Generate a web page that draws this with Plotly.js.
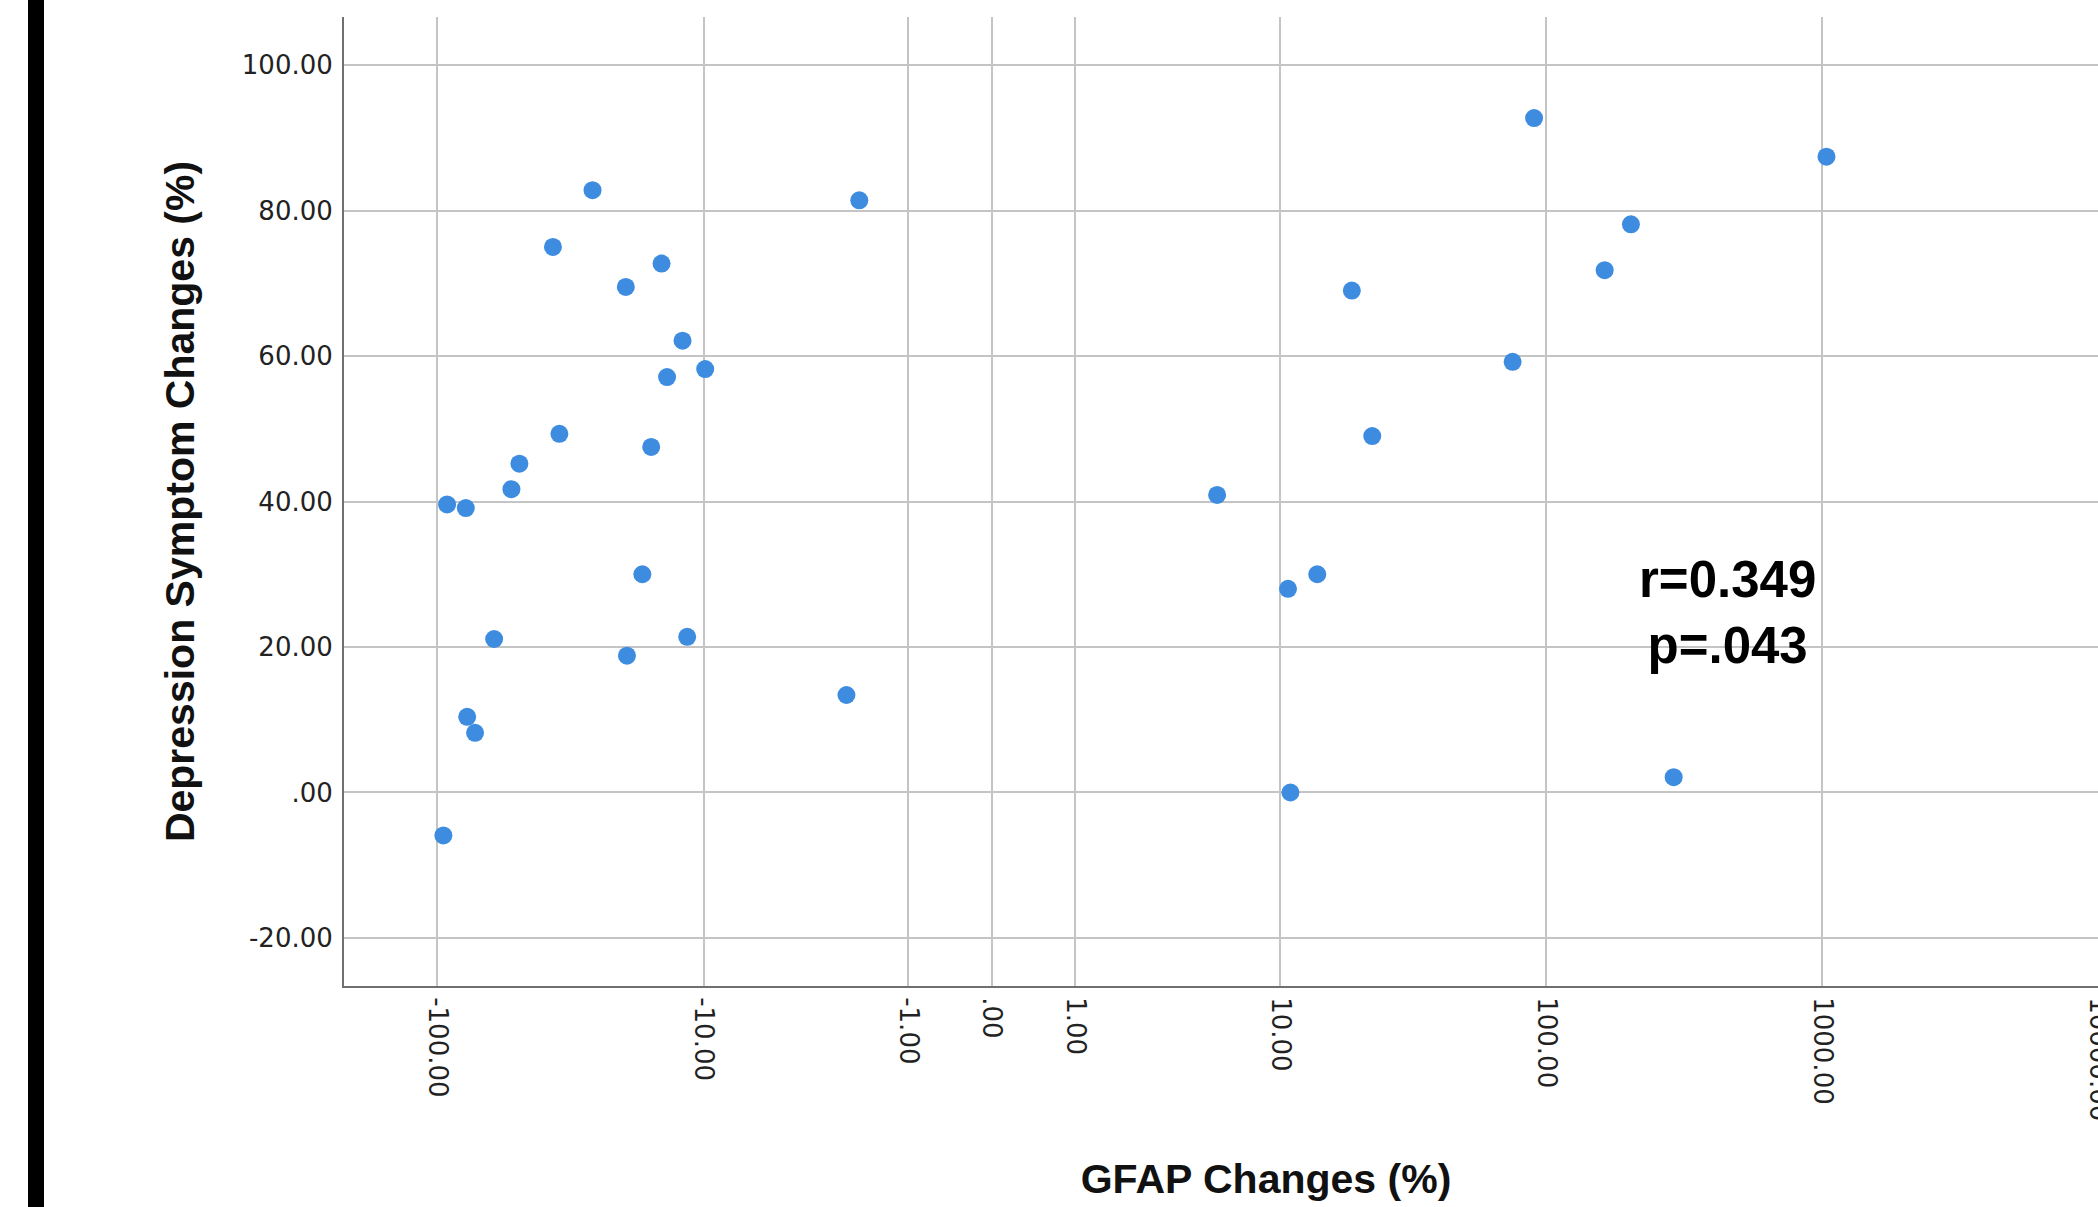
<!DOCTYPE html>
<html>
<head>
<meta charset="utf-8">
<script src="https://cdn.plot.ly/plotly-3.0.1.min.js"></script>
<style>
html, body { margin:0; padding:0; overflow:hidden; background:#fff; width:2098px; height:1207px; }
#chart { position:absolute; left:0; top:0; width:2200px; height:1207px; }
#edge { position:absolute; left:28px; top:0; width:16px; height:1207px; background:#000; z-index:5; }
</style>
</head>
<body>
<div id="chart"></div>
<div id="edge"></div>
<script>
// GFAP changes (%) — x values
const gfapChange = [
  -26.7, -2.01, -37.5, -14.6, -20.0, -12.1, -9.85, -13.9, -35.5, -16.0, -49.9,
  -53.4, -91.9, -78.5, -17.3, -61.8, -11.6, -19.8, -2.35, -77.6, -72.6, -94.8,
  90.1, 1036.5, 202.9, 162.9, 19.0, 75.2, 22.7, 5.52, 14.0, 10.76, 11.0, 290
];
// Depression symptom changes (%) — y values
const depressionChange = [
  82.8, 81.4, 75.0, 72.7, 69.5, 62.1, 58.2, 57.1, 49.3, 47.5, 45.2,
  41.7, 39.6, 39.1, 30.0, 21.1, 21.4, 18.8, 13.4, 10.4, 8.2, -5.9,
  92.7, 87.4, 78.1, 71.8, 69.0, 59.2, 49.0, 40.9, 30.0, 28.0, 0.0, 2.1
];
const xTickValues = [-100, -10, -1, 0, 1, 10, 100, 1000, 10000];
const xTickLabels = ["-100.00", "-10.00", "-1.00", ".00", "1.00", "10.00", "100.00", "1000.00", "10000.00"];
const yTickValues = [-20, 0, 20, 40, 60, 80, 100];
const yTickLabels = ["-20.00", ".00", "20.00", "40.00", "60.00", "80.00", "100.00"];
const xRangeRaw = [-218, 21000];
const yRange = [-26.6, 106.6];
const statsLines = ["r=0.349", "p=.043"];
const xTitle = "GFAP Changes (%)";
const yTitle = "Depression Symptom Changes (%)";

// SPSS-style "safe log" scale: sign(v) * log10(1 + |v|)
function safeLog(v) { return Math.sign(v) * Math.log10(1 + Math.abs(v)); }

const trace = {
  type: 'scatter',
  mode: 'markers',
  x: gfapChange.map(safeLog),
  y: depressionChange,
  customdata: gfapChange,
  hovertemplate: 'GFAP: %{customdata}<br>Depression: %{y}<extra></extra>',
  marker: { color: '#3d8ce0', size: 18, line: { width: 0 } }
};

const tickFont = { family: 'DejaVu Sans', size: 26, color: '#222' };
const titleFont = { family: 'Liberation Sans', size: 41, color: '#111', weight: 'bold' };

const layout = {
  width: 2200,
  height: 1207,
  margin: { l: 344, r: 12, t: 17, b: 221, pad: 0 },
  paper_bgcolor: '#fff',
  plot_bgcolor: '#fff',
  showlegend: false,
  xaxis: {
    type: 'linear',
    range: xRangeRaw.map(safeLog),
    tickmode: 'array',
    tickvals: xTickValues.map(safeLog),
    ticktext: xTickLabels,
    tickangle: 90,
    tickfont: tickFont,
    ticks: '',
    ticklabelstandoff: 4,
    showgrid: true,
    gridcolor: '#c4c4c4',
    gridwidth: 2,
    zeroline: false,
    showline: true,
    linecolor: '#707070',
    linewidth: 2,
    automargin: false,
    title: { text: xTitle, font: titleFont, standoff: 44 }
  },
  yaxis: {
    range: yRange,
    tickmode: 'array',
    tickvals: yTickValues,
    ticktext: yTickLabels,
    tickfont: tickFont,
    ticks: '',
    ticklabelstandoff: 4,
    showgrid: true,
    gridcolor: '#c4c4c4',
    gridwidth: 2,
    zeroline: false,
    showline: true,
    linecolor: '#707070',
    linewidth: 2,
    automargin: false,
    title: { text: yTitle, font: titleFont, standoff: 34 }
  },
  annotations: [{
    xref: 'paper', yref: 'paper',
    x: 0.7505, y: 0.3858,
    xanchor: 'center', yanchor: 'middle',
    align: 'center',
    showarrow: false,
    text: statsLines.join('<br>'),
    font: { family: 'Liberation Sans', size: 51, color: '#000', weight: 'bold' }
  }]
};

Plotly.newPlot('chart', [trace], layout, { displayModeBar: false, responsive: false });
</script>
</body>
</html>
